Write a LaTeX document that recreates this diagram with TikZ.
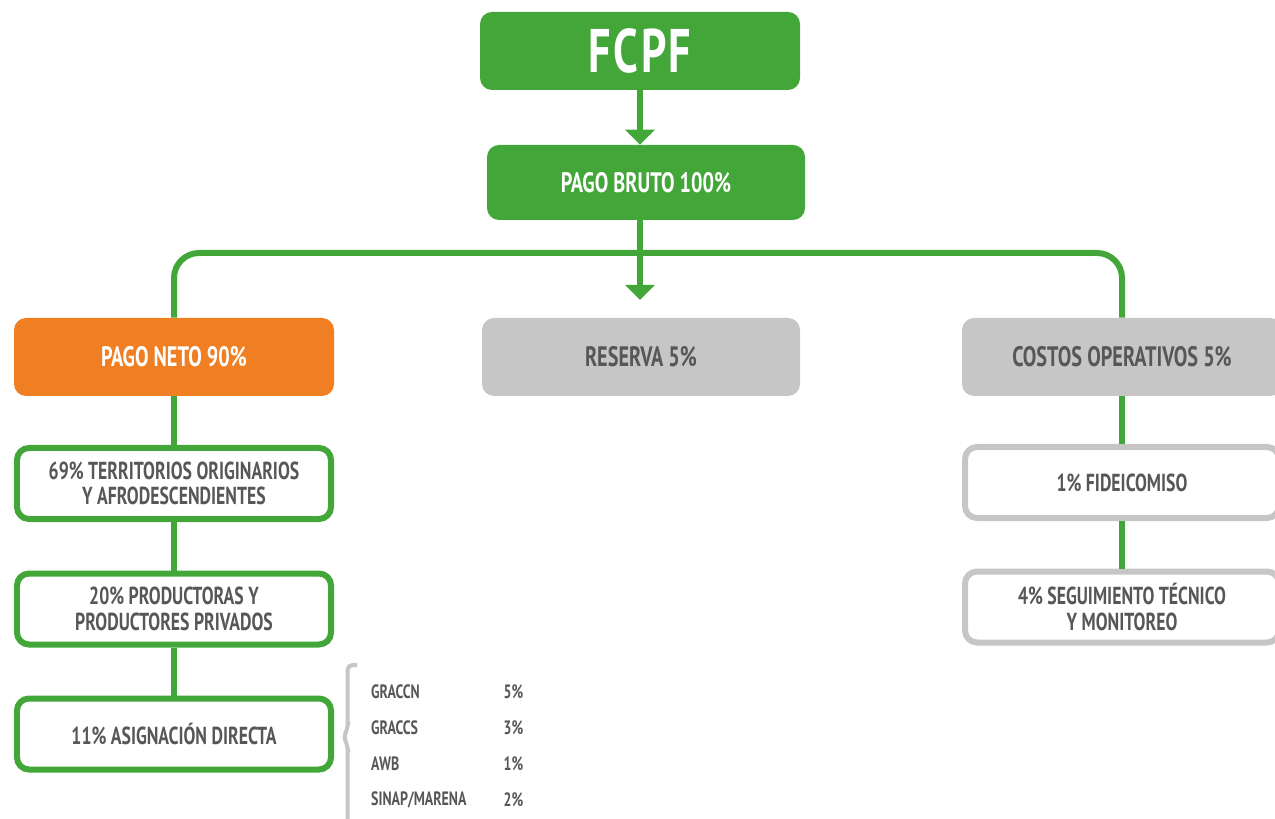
\documentclass[tikz,border=0pt]{standalone}
\usepackage{fontspec}
\setmainfont{PT Sans}[FakeStretch=0.72]
\usepackage{xcolor}
\usetikzlibrary{arrows.meta}
\definecolor{fcgreen}{HTML}{43A639}
\definecolor{fcorange}{HTML}{EF7F22}
\definecolor{fcgray}{HTML}{C6C6C6}
\definecolor{fctext}{HTML}{575757}

\begin{document}
\begin{tikzpicture}[
  font=\bfseries,
  box/.style={
    rounded corners=0.24cm,
    minimum width=6.4cm,
    minimum height=1.56cm,
    align=center,
    inner sep=0pt
  },
  filled/.style={box, fill=#1, text=white, font=\bfseries\fontsize{16}{18}\selectfont},
  grayfilled/.style={box, fill=fcgray, text=fctext, font=\bfseries\fontsize{16}{18}\selectfont},
  framed/.style={
    box,
    draw=#1,
    line width=0.12cm,
    fill=white,
    text=fctext,
    minimum width=6.28cm,
    minimum height=1.42cm,
    font=\bfseries\fontsize{14}{14.5}\selectfont
  },
  link/.style={draw=fcgreen, line width=0.12cm},
  flow/.style={link, -{Triangle[width=0.58cm,length=0.3cm]}},
  item/.style={anchor=west, text=fctext, font=\bfseries\fontsize{11}{12}\selectfont}
]
  \useasboundingbox (0,0) rectangle (25.5,-16.38);

  \node[filled=fcgreen, minimum height=1.56cm,
        font=\bfseries\fontsize{35}{38}\selectfont] (fcpf) at (12.8,-1.02) {F\kern1.5pt C\kern1.5pt P\kern1.5pt F};
  \node[filled=fcgreen, minimum width=6.36cm, minimum height=1.5cm] (bruto) at (12.92,-3.65) {PAGO BRUTO 100\%};

  \node[filled=fcorange] (neto) at (3.48,-7.14) {PAGO NETO 90\%};
  \node[grayfilled, minimum width=6.36cm] (reserva) at (12.82,-7.14) {RESERVA 5\%};
  \node[grayfilled] (costos) at (22.44,-7.14) {COSTOS OPERATIVOS 5\%};

  \node[framed=fcgreen] (territorios) at (3.48,-9.67) {69\% TERRITORIOS ORIGINARIOS\\Y AFRODESCENDIENTES};
  \node[framed=fcgreen] (productores) at (3.48,-12.18) {20\% PRODUCTORAS Y\\PRODUCTORES PRIVADOS};
  \node[framed=fcgreen] (asignacion) at (3.48,-14.68) {11\% ASIGNACIÓN DIRECTA};

  \node[framed=fcgray] (fideicomiso) at (22.44,-9.65) {1\% FIDEICOMISO};
  \node[framed=fcgray] (seguimiento) at (22.44,-12.14) {4\% SEGUIMIENTO TÉCNICO\\Y MONITOREO};

  \coordinate (split) at (12.8,-5.06);
  \coordinate (reservatip) at (12.8,-6.0);

  \draw[flow] (fcpf.south) -- (fcpf.south |- bruto.north);
  \draw[flow] (bruto.south -| split) -- (reservatip);
  \draw[link, rounded corners=0.5cm] (neto.north) |- (split) -| (costos.north);

  \draw[link] (neto) -- (territorios);
  \draw[link] (territorios) -- (productores);
  \draw[link] (productores) -- (asignacion);
  \draw[link] (costos) -- (fideicomiso);
  \draw[link] (fideicomiso) -- (seguimiento);

  \draw[draw=fcgray, line width=0.08cm, rounded corners=0.1cm]
    (7.14,-13.3) -- (6.95,-13.3) -- (6.95,-14.6) -- (6.86,-14.74)
    -- (6.95,-14.88) -- (6.95,-16.6);

  \node[item] (graccn) at (7.3,-13.84) {GRACCN};
  \node[item] (graccs) at (7.3,-14.56) {GRACCS};
  \node[item] (awb) at (7.3,-15.28) {AWB};
  \node[item] (sinap) at (7.3,-16.0) {SINAP/MARENA};
  \node[item] (graccnpct) at (9.95,-13.84) {5\%};
  \node[item] (graccspct) at (9.95,-14.56) {3\%};
  \node[item] (awbpct) at (9.95,-15.28) {1\%};
  \node[item] (sinappct) at (9.95,-16.0) {2\%};
\end{tikzpicture}
\end{document}
